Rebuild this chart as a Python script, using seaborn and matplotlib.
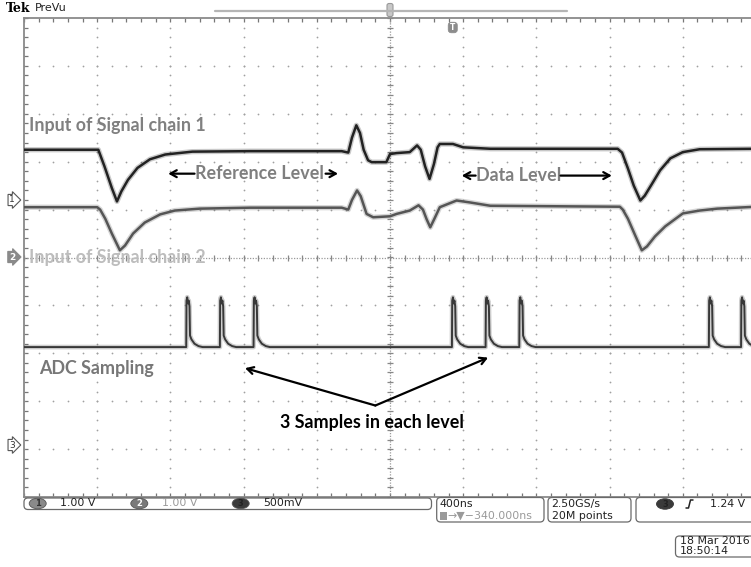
import numpy as np
import pandas as pd
import matplotlib
matplotlib.use("Agg")
import matplotlib.pyplot as plt
import seaborn as sns
from matplotlib.patches import FancyBboxPatch, Ellipse, Rectangle
from matplotlib.ticker import MultipleLocator

# ---------------- data (screen divisions: x 0..10, y -5..5) ----------------
ch1_x = [0.00, 1.00, 1.015, 1.10, 1.20, 1.27, 1.33, 1.42, 1.55, 1.72, 1.93, 2.30, 3.09, 4.34,
         4.43, 4.48, 4.54, 4.59, 4.64, 4.70, 4.75, 4.95, 5.00, 5.09, 5.27, 5.37, 5.42, 5.48,
         5.54, 5.60, 5.65, 5.68, 5.86, 6.00, 6.37, 8.11, 8.17, 8.25, 8.33, 8.42, 8.48, 8.58,
         8.69, 8.83, 9.00, 9.23, 10.0]
ch1_y = [2.25, 2.25, 2.25, 1.90, 1.45, 1.17, 1.38, 1.62, 1.87, 2.05, 2.15, 2.21, 2.22, 2.22,
         2.19, 2.50, 2.76, 2.60, 2.25, 2.03, 1.99, 1.99, 2.16, 2.18, 2.20, 2.34, 2.25, 1.90,
         1.64, 1.95, 2.30, 2.37, 2.37, 2.30, 2.27, 2.27, 2.19, 1.86, 1.50, 1.19, 1.29, 1.54,
         1.82, 2.07, 2.20, 2.26, 2.27]

ch2_x = [0.00, 1.00, 1.04, 1.11, 1.20, 1.31, 1.38, 1.49, 1.65, 1.86, 2.06, 2.40, 3.09, 4.34,
         4.43, 4.48, 4.55, 4.60, 4.68, 4.77, 5.00, 5.09, 5.27, 5.39, 5.45, 5.50, 5.55, 5.61,
         5.68, 5.91, 6.09, 6.37, 8.14, 8.18, 8.25, 8.35, 8.44, 8.51, 8.62, 8.76, 9.00, 9.23,
         9.47, 10.0]
ch2_y = [1.05, 1.05, 1.00, 0.81, 0.50, 0.15, 0.25, 0.50, 0.73, 0.90, 0.98, 1.02, 1.04, 1.04,
         1.00, 1.20, 1.40, 1.28, 0.91, 0.84, 0.86, 0.91, 0.98, 1.09, 1.00, 0.80, 0.63, 0.82,
         1.05, 1.19, 1.15, 1.08, 1.06, 1.00, 0.81, 0.46, 0.15, 0.23, 0.44, 0.65, 0.92, 0.98,
         1.02, 1.06]

ch3_baseline = -1.87
ch3_pulse_x = [2.22, 2.68, 3.14, 5.85, 6.31, 6.77, 9.36, 9.80, 10.26]
pulse_dx = [-0.004, 0.0, 0.01, 0.02, 0.031, 0.041, 0.048, 0.068, 0.109, 0.164, 0.219]
pulse_y = [-1.87, -0.90, -0.83, -0.96, -0.90, -1.02, -1.63, -1.71, -1.80, -1.85, -1.87]

ch_labels = ["1", "2", "3"]
ch_scales = ["1.00 V", "1.00 V", "500mV"]
ch_ground_px = [200, 257, 445]
timebase = "400ns"
trig_pos = "\u2192\u25bc\u2212340.000ns"
sample_rate = "2.50GS/s"
record_len = "20M points"
trig_level = "1.24 V"
date_str = "18 Mar 2016"
time_str = "18:50:14"

# ---------------- build channel 3 pulse train ----------------
c3x = [0.0]
c3y = [ch3_baseline]
for p in ch3_pulse_x:
    for dx, yy in zip(pulse_dx, pulse_y):
        c3x.append(p + dx)
        c3y.append(yy)
c3x.append(10.6)
c3y.append(ch3_baseline)

df1 = pd.DataFrame({"t": ch1_x, "v": ch1_y})
df2 = pd.DataFrame({"t": ch2_x, "v": ch2_y})
df3 = pd.DataFrame({"t": c3x, "v": c3y})

sns.set_style("white")
plt.rcParams["font.family"] = ["DejaVu Sans"]

W, H = 751, 567
fig = plt.figure(figsize=(W / 100, H / 100), dpi=100)
fig.patch.set_facecolor("white")

ax = fig.add_axes([24 / W, (H - 497) / H, 732 / W, 479 / H])
ax.set_xlim(0, 10)
ax.set_ylim(-5, 5)
ax.set_facecolor("white")
for s in ["left", "top", "bottom"]:
    ax.spines[s].set_color("#8a8a8a")
    ax.spines[s].set_linewidth(1.3)
ax.spines["right"].set_visible(False)
ax.xaxis.set_major_locator(MultipleLocator(1))
ax.xaxis.set_minor_locator(MultipleLocator(0.2))
ax.yaxis.set_major_locator(MultipleLocator(1))
ax.yaxis.set_minor_locator(MultipleLocator(0.2))
ax.tick_params(which="both", direction="in", length=3, width=0.9, color="#777777",
               top=True, bottom=True, left=True, right=False,
               labelbottom=False, labelleft=False)

# graticule dots
gx, gy = [], []
for yy in [-4, -3, -2, -1, 1, 2, 3, 4]:
    for xx in np.arange(0, 10.001, 0.2):
        gx.append(xx); gy.append(yy)
for xx in [1, 2, 3, 4, 6, 7, 8, 9]:
    for yy in np.arange(-5, 5.001, 0.2):
        gx.append(xx); gy.append(yy)
ax.scatter(gx, gy, s=1.6, color="#a0a0a0", linewidths=0, zorder=1)
ax.axvline(5, color="#9a9a9a", lw=0.9, ls=(0, (1, 1.2)), zorder=1)
ax.axhline(0, color="#9a9a9a", lw=0.9, ls=(0, (1, 1.2)), zorder=1)
cyt = np.arange(-5, 5.001, 0.2)
ax.plot([5] * len(cyt), cyt, ls="none", marker="_", ms=5, mew=0.9, color="#888888", zorder=1)
cxt = np.arange(0, 10.001, 0.2)
ax.plot(cxt, [0] * len(cxt), ls="none", marker="|", ms=5, mew=0.9, color="#888888", zorder=1)

# traces (with a faint wider layer to mimic the scope's noise band)
for df, col, lw in [(df1, "#222222", 1.8), (df2, "#555555", 1.8), (df3, "#383838", 1.4)]:
    ax.plot(df["t"], df["v"], color=col, lw=lw + 2.0, alpha=0.24, zorder=2,
            solid_joinstyle="round")
    sns.lineplot(data=df, x="t", y="v", ax=ax, color=col, lw=lw, sort=False,
                 estimator=None, zorder=3)
ax.set_xlabel("")
ax.set_ylabel("")

# annotations
afont = dict(fontfamily="Lato", fontweight="bold", fontsize=12.9, va="center", ha="left")
ax.text(0.07, 2.76, "Input of Signal chain 1", color="#808080", zorder=5, **afont)
ax.text(0.07, 0.0, "Input of Signal chain 2", color="#bdbdbd", zorder=5, **afont)
ax.text(2.33, 1.75, "Reference Level", color="#7f7f7f", zorder=5, **afont)
ax.text(6.17, 1.71, "Data Level", color="#7f7f7f", zorder=5, **afont)
ax.text(0.20, -2.32, "ADC Sampling", color="#777777", zorder=5, **afont)
ax.text(3.50, -3.44, "3 Samples in each level", color="black", zorder=5, **afont)

arr = dict(arrowstyle="->,head_length=0.45,head_width=0.25", color="black", lw=1.6,
           shrinkA=0, shrinkB=0)
ax.annotate("", xy=(1.97, 1.75), xytext=(2.33, 1.75), arrowprops=arr, zorder=5)
ax.annotate("", xy=(4.29, 1.75), xytext=(4.12, 1.75), arrowprops=arr, zorder=5)
ax.annotate("", xy=(5.98, 1.71), xytext=(6.17, 1.71), arrowprops=arr, zorder=5)
ax.annotate("", xy=(8.03, 1.71), xytext=(7.33, 1.71), arrowprops=arr, zorder=5)
ax.annotate("", xy=(3.02, -2.31), xytext=(4.80, -3.09), arrowprops=arr, zorder=5)
ax.annotate("", xy=(6.34, -2.09), xytext=(4.80, -3.09), arrowprops=arr, zorder=5)

# ---------------- overlay (screen furniture, pixel coords) ----------------
ov = fig.add_axes([0, 0, 1, 1], facecolor="none")
ov.set_xlim(0, W)
ov.set_ylim(H, 0)
ov.axis("off")

ov.text(6, 8.5, "Tek", fontfamily="DejaVu Serif", fontweight="bold", fontsize=9,
        va="center", ha="left", color="black")
ov.text(35, 8, "PreVu", fontsize=8, va="center", ha="left", color="#222222")
ov.plot([215, 567], [11, 11], color="#b5b5b5", lw=1.6)
ov.add_patch(FancyBboxPatch((387.5, 4), 5, 12, boxstyle="round,pad=0.5,rounding_size=2",
                            fc="#c8c8c8", ec="#999999", lw=0.8))
ov.add_patch(FancyBboxPatch((448.5, 22.5), 8.5, 10, boxstyle="round,pad=0.3,rounding_size=3",
                            fc="#8c8c8c", ec="#8c8c8c", lw=0.5))
ov.text(452.8, 27.5, "T", fontsize=5.5, fontweight="bold", color="white", ha="center",
        va="center")

# ground reference markers
gm_style = [("white", "#555555", "#333333"), ("#8a8a8a", "#8a8a8a", "white"),
            ("white", "#555555", "#333333")]
for lab, gpy, (fc, ec, tc) in zip(ch_labels, ch_ground_px, gm_style):
    ov.text(12, gpy, lab, fontsize=6.5, color=tc, ha="center", va="center",
            fontweight="bold" if lab == "2" else "normal",
            bbox=dict(boxstyle="rarrow,pad=0.12", fc=fc, ec=ec, lw=0.8))

# bottom status bar
def rbox(x0, y0, x1, y1):
    ov.add_patch(FancyBboxPatch((x0, y0), x1 - x0, y1 - y0,
                                boxstyle="round,pad=0,rounding_size=4",
                                fc="white", ec="#6a6a6a", lw=0.9))

rbox(24, 498, 431.5, 509.5)
rbox(436.7, 497.5, 544, 522)
rbox(548, 497.5, 631, 522)
rbox(636, 497.5, 770, 522)
rbox(675.5, 536, 770, 557)

bfont = dict(fontsize=7.9, va="center", ha="left")
badge = [(37.7, "#8a8a8a", "#333333"), (139.3, "#7a7a7a", "white"), (240.7, "#3a3a3a", "#222222")]
txt_x = [60, 161.7, 262.7]
txt_c = ["#222222", "#9a9a9a", "#222222"]
for lab, sc, (bx, bfc, btc), tx, tc in zip(ch_labels, ch_scales, badge, txt_x, txt_c):
    ov.add_patch(Ellipse((bx, 503.5), 17, 10.5, fc=bfc, ec="#555555", lw=0.6))
    ov.text(bx, 503.8, lab, fontsize=6, color=btc, ha="center", va="center", fontweight="bold")
    ov.text(tx, 503.5, sc, color=tc, **bfont)

ov.text(439.5, 504, timebase, color="#222222", **bfont)
ov.add_patch(Rectangle((439.5, 512), 7, 8, fc="#9a9a9a", ec="none"))
ov.text(447, 516, trig_pos, color="#9a9a9a", **bfont)
ov.text(551.5, 504, sample_rate, color="#222222", **bfont)
ov.text(551.5, 516, record_len, color="#222222", **bfont)
ov.add_patch(Ellipse((665, 504), 17, 10.5, fc="#3a3a3a", ec="#3a3a3a", lw=0.6))
ov.text(665, 504.3, "3", fontsize=6, color="#222222", ha="center", va="center", fontweight="bold")
ov.plot([686, 688.5, 690.5, 693], [508, 508, 500, 500], color="#222222", lw=1.1)
ov.text(710, 504, trig_level, color="#222222", **bfont)
ov.text(680, 541.5, date_str, color="#222222", **bfont)
ov.text(680, 551.5, time_str, color="#222222", **bfont)

fig.savefig("out.png", dpi=100)
